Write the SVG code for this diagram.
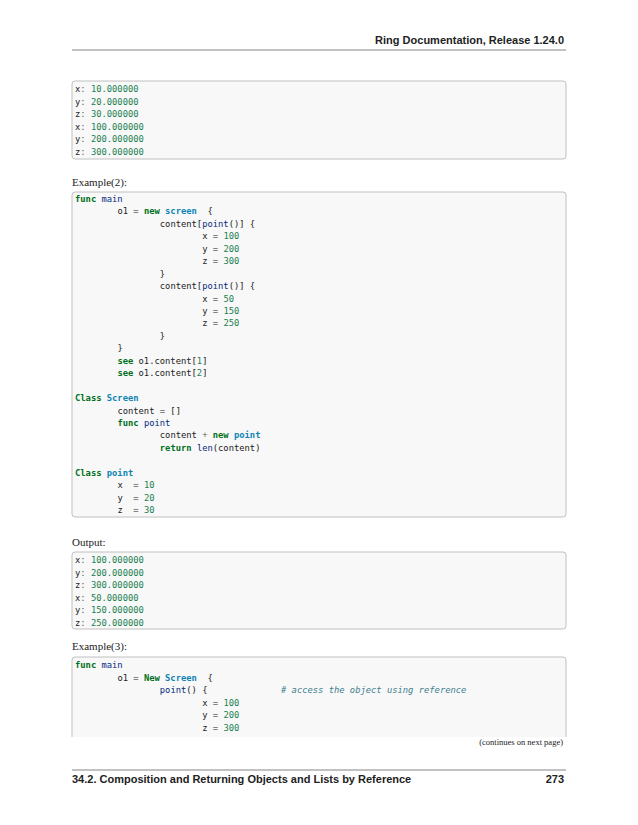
<svg xmlns="http://www.w3.org/2000/svg" width="638" height="825" viewBox="0 0 638 825">
<style>
.c{font-family:"DejaVu Sans Mono",monospace;font-size:8.8px;fill:#222}
.k{fill:#007020;font-weight:bold}.f{fill:#06287e}.n{fill:#208050}.o{fill:#666}.cl{fill:#0e84b5;font-weight:bold}.cm{fill:#408090;font-style:italic}
.t{font-family:"Liberation Serif",serif;font-size:11px;fill:#222}
.h{font-family:"Liberation Sans",sans-serif;font-size:11px;fill:#222;font-weight:bold}
.box{fill:#f8f8f8;stroke:#c0c0c0;stroke-width:1}
</style>
<text class="h" x="564" y="44" text-anchor="end">Ring Documentation, Release 1.24.0</text>
<line x1="72" y1="50" x2="566" y2="50" stroke="#333" stroke-width="0.6"/>
<rect class="box" x="72" y="81" width="494" height="78" rx="3"/>
<g class="c">
<text x="75" y="92">x<tspan class="o">:</tspan> <tspan class="n">10.000000</tspan></text>
<text x="75" y="104.6">y<tspan class="o">:</tspan> <tspan class="n">20.000000</tspan></text>
<text x="75" y="117.2">z<tspan class="o">:</tspan> <tspan class="n">30.000000</tspan></text>
<text x="75" y="129.8">x<tspan class="o">:</tspan> <tspan class="n">100.000000</tspan></text>
<text x="75" y="142.4">y<tspan class="o">:</tspan> <tspan class="n">200.000000</tspan></text>
<text x="75" y="155">z<tspan class="o">:</tspan> <tspan class="n">300.000000</tspan></text>
</g>
<text class="t" x="72" y="186">Example(2):</text>
<rect class="box" x="72" y="192" width="494" height="325" rx="3"/>
<g class="c">
<text x="75" y="202"><tspan class="k">func</tspan> <tspan class="f">main</tspan></text>
<text x="117.4" y="214.4">o1 <tspan class="o">=</tspan> <tspan class="k">new</tspan> <tspan class="cl">screen</tspan><tspan x="207.5">{</tspan></text>
<text x="159.8" y="226.9">content[<tspan class="f">point</tspan>()] {</text>
<text x="202.2" y="239.3">x <tspan class="o">=</tspan> <tspan class="n">100</tspan></text>
<text x="202.2" y="251.8">y <tspan class="o">=</tspan> <tspan class="n">200</tspan></text>
<text x="202.2" y="264.2">z <tspan class="o">=</tspan> <tspan class="n">300</tspan></text>
<text x="159.8" y="276.6">}</text>
<text x="159.8" y="289.1">content[<tspan class="f">point</tspan>()] {</text>
<text x="202.2" y="301.5">x <tspan class="o">=</tspan> <tspan class="n">50</tspan></text>
<text x="202.2" y="314">y <tspan class="o">=</tspan> <tspan class="n">150</tspan></text>
<text x="202.2" y="326.4">z <tspan class="o">=</tspan> <tspan class="n">250</tspan></text>
<text x="159.8" y="338.8">}</text>
<text x="117.4" y="351.3">}</text>
<text x="117.4" y="363.7"><tspan class="k">see</tspan> o1.content[<tspan class="n">1</tspan>]</text>
<text x="117.4" y="376.2"><tspan class="k">see</tspan> o1.content[<tspan class="n">2</tspan>]</text>
<text x="75" y="401"><tspan class="k">Class</tspan> <tspan class="cl">Screen</tspan></text>
<text x="117.4" y="413.5">content <tspan class="o">=</tspan> []</text>
<text x="117.4" y="425.9"><tspan class="k">func</tspan> <tspan class="f">point</tspan></text>
<text x="159.8" y="438.4">content <tspan class="o">+</tspan> <tspan class="k">new</tspan> <tspan class="cl">point</tspan></text>
<text x="159.8" y="450.8"><tspan class="k">return</tspan> <tspan class="f">len</tspan>(content)</text>
<text x="75" y="475.7"><tspan class="k">Class</tspan> <tspan class="cl">point</tspan></text>
<text x="117.4" y="488.1">x<tspan x="133.3" class="o">=</tspan> <tspan class="n">10</tspan></text>
<text x="117.4" y="500.6">y<tspan x="133.3" class="o">=</tspan> <tspan class="n">20</tspan></text>
<text x="117.4" y="513">z<tspan x="133.3" class="o">=</tspan> <tspan class="n">30</tspan></text>
</g>
<text class="t" x="72" y="546">Output:</text>
<rect class="box" x="72" y="552" width="494" height="77" rx="3"/>
<g class="c">
<text x="75" y="563">x<tspan class="o">:</tspan> <tspan class="n">100.000000</tspan></text>
<text x="75" y="575.6">y<tspan class="o">:</tspan> <tspan class="n">200.000000</tspan></text>
<text x="75" y="588.2">z<tspan class="o">:</tspan> <tspan class="n">300.000000</tspan></text>
<text x="75" y="600.8">x<tspan class="o">:</tspan> <tspan class="n">50.000000</tspan></text>
<text x="75" y="613.4">y<tspan class="o">:</tspan> <tspan class="n">150.000000</tspan></text>
<text x="75" y="626">z<tspan class="o">:</tspan> <tspan class="n">250.000000</tspan></text>
</g>
<text class="t" x="72" y="650">Example(3):</text>
<path class="box" d="M72,737 V660 a3,3 0 0 1 3,-3 H563 a3,3 0 0 1 3,3 V737"/>
<g class="c">
<text x="75" y="668"><tspan class="k">func</tspan> <tspan class="f">main</tspan></text>
<text x="117.4" y="680.6">o1 <tspan class="o">=</tspan> <tspan class="k">New</tspan> <tspan class="cl">Screen</tspan><tspan x="207.5">{</tspan></text>
<text x="159.8" y="693.2"><tspan class="f">point</tspan>() {<tspan x="281" class="cm"># access the object using reference</tspan></text>
<text x="202.2" y="705.8">x <tspan class="o">=</tspan> <tspan class="n">100</tspan></text>
<text x="202.2" y="718.4">y <tspan class="o">=</tspan> <tspan class="n">200</tspan></text>
<text x="202.2" y="731">z <tspan class="o">=</tspan> <tspan class="n">300</tspan></text>
</g>
<text x="563" y="745" text-anchor="end" style="font-family:'Liberation Serif',serif;font-size:8.5px;fill:#222">(continues on next page)</text>
<line x1="72" y1="770" x2="566" y2="770" stroke="#333" stroke-width="0.6"/>
<text class="h" x="72" y="783">34.2. Composition and Returning Objects and Lists by Reference</text>
<text class="h" x="564" y="783" text-anchor="end">273</text>
</svg>
